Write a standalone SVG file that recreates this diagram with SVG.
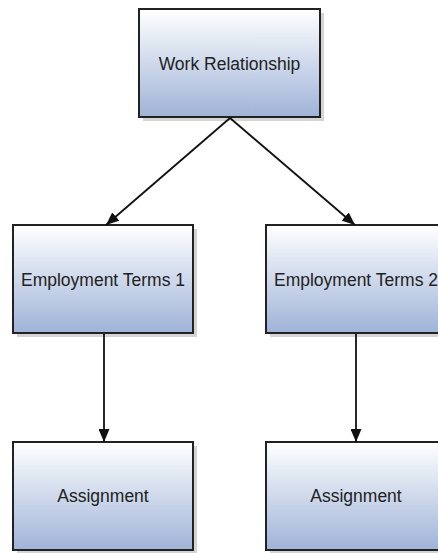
<svg xmlns="http://www.w3.org/2000/svg" width="438" height="553" viewBox="0 0 438 553">
<defs>
<linearGradient id="g" x1="0" y1="0" x2="0" y2="1">
<stop offset="0" stop-color="#ffffff"/>
<stop offset="1" stop-color="#9fb3d8"/>
</linearGradient>
<marker id="ah" markerWidth="13" markerHeight="11" refX="13" refY="5.5" orient="auto" markerUnits="userSpaceOnUse">
<path d="M0,0 L13,5.5 L0,11 Z" fill="#111111"/>
</marker>
</defs>
<style>
.sh{fill:#d4d4d4;}
.bx{fill:url(#g);stroke:#222222;stroke-width:2;}
.t{font-family:"Liberation Sans",Arial,sans-serif;font-size:17.5px;fill:#222222;text-anchor:middle;}
.c{stroke:#111111;stroke-width:1.8;fill:none;marker-end:url(#ah);}
</style>
<rect width="438" height="553" fill="#ffffff"/>
<g id="work-relationship">
<rect class="sh" x="143" y="13" width="181" height="108"/>
<rect class="bx" x="139" y="9" width="181" height="108"/>
<text class="t" x="229.5" y="69.5">Work Relationship</text>
</g>
<g id="employment-terms-1">
<rect class="sh" x="17" y="229" width="180" height="108"/>
<rect class="bx" x="13" y="225" width="180" height="108"/>
<text class="t" x="103" y="285.5">Employment Terms 1</text>
</g>
<g id="employment-terms-2">
<rect class="sh" x="270" y="229" width="180" height="108"/>
<rect class="bx" x="266" y="225" width="180" height="108"/>
<text class="t" x="356" y="285.5">Employment Terms 2</text>
</g>
<g id="assignment-1">
<rect class="sh" x="17" y="446" width="180" height="108"/>
<rect class="bx" x="13" y="442" width="180" height="108"/>
<text class="t" x="103" y="502">Assignment</text>
</g>
<g id="assignment-2">
<rect class="sh" x="270" y="446" width="180" height="108"/>
<rect class="bx" x="266" y="442" width="180" height="108"/>
<text class="t" x="356" y="502">Assignment</text>
</g>
<g id="connectors">
<line class="c" x1="230" y1="118" x2="106" y2="225"/>
<line class="c" x1="230" y1="118" x2="355" y2="225"/>
<line class="c" x1="104" y1="334" x2="104" y2="442"/>
<line class="c" x1="356" y1="334" x2="356" y2="442"/>
</g>
</svg>
